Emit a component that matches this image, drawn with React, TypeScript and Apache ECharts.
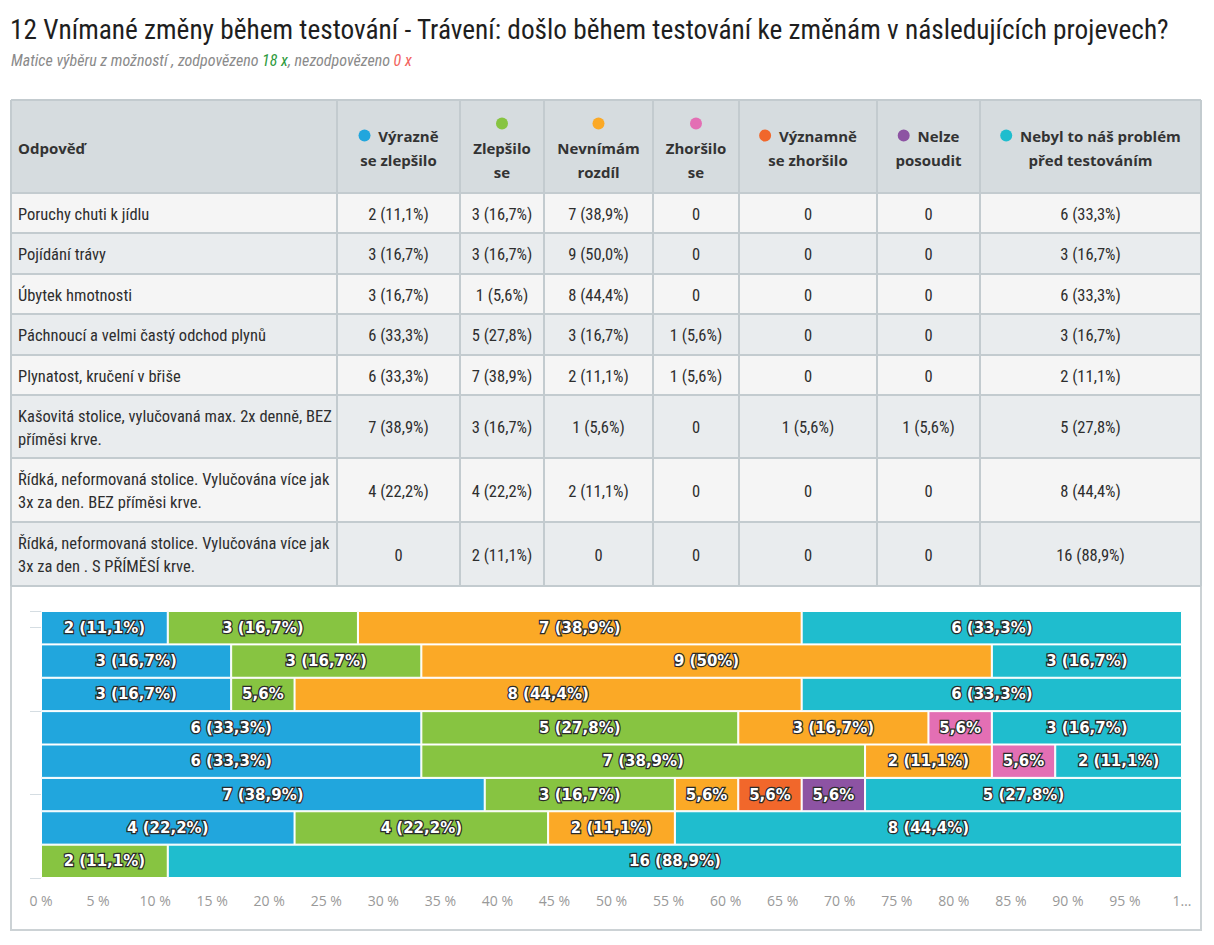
import React, { useEffect, useRef } from "react";
import * as echarts from "echarts";

// ---- data ----
const TITLE = "12 Vnímané změny během testování - Trávení: došlo během testování ke změnám v následujících projevech?";
const SUBTITLE_TYPE = "Matice výběru z možností";
const answered = 18;
const unanswered = 0;

const rowLabels = [
  "Poruchy chuti k jídlu",
  "Pojídání trávy",
  "Úbytek hmotnosti",
  "Páchnoucí a velmi častý odchod plynů",
  "Plynatost, kručení v břiše",
  "Kašovitá stolice, vylučovaná max. 2x denně, BEZ\npříměsi krve.",
  "Řídká, neformovaná stolice. Vylučována více jak\n3x za den. BEZ příměsi krve.",
  "Řídká, neformovaná stolice. Vylučována více jak\n3x za den . S PŘÍMĚSÍ krve.",
];

const seriesNames = [
  "Výrazně se zlepšilo",
  "Zlepšilo se",
  "Nevnímám rozdíl",
  "Zhoršilo se",
  "Významně se zhoršilo",
  "Nelze posoudit",
  "Nebyl to náš problém před testováním",
];
const headerLines = [
  ["Výrazně", "se zlepšilo"],
  ["Zlepšilo", "se"],
  ["Nevnímám", "rozdíl"],
  ["Zhoršilo", "se"],
  ["Významně", "se zhoršilo"],
  ["Nelze", "posoudit"],
  ["Nebyl to náš problém", "před testováním"],
];
const dotAbove = [false, true, true, true, false, false, false];
const colors = ["#21a6dd", "#87c441", "#fba926", "#e36fb4", "#f1672b", "#8d53a3", "#1fbdce"];

const vyrazneZlepsilo = [2, 3, 3, 6, 6, 7, 4, 0];
const zlepsilo = [3, 3, 1, 5, 7, 3, 4, 2];
const nevnimam = [7, 9, 8, 3, 2, 1, 2, 0];
const zhorsilo = [0, 0, 0, 1, 1, 0, 0, 0];
const vyznamneZhorsilo = [0, 0, 0, 0, 0, 1, 0, 0];
const nelzePosoudit = [0, 0, 0, 0, 0, 1, 0, 0];
const nebylProblem = [6, 3, 6, 3, 2, 5, 8, 16];
const counts = [vyrazneZlepsilo, zlepsilo, nevnimam, zhorsilo, vyznamneZhorsilo, nelzePosoudit, nebylProblem];

// ---- layout ----
const colX = [11, 337, 460, 544, 653, 739, 877, 980, 1201];
const rowY = [100, 193, 233, 274, 314, 355, 395, 458, 522, 586];
const BODY_FONT = "'Roboto Condensed', sans-serif";
const HEAD_FONT = "'Open Sans', sans-serif";

const pct = (n: number, keepZero: boolean) => {
  let s = ((n / answered) * 100).toFixed(1).replace(".", ",");
  if (!keepZero && s.endsWith(",0")) s = s.slice(0, -2);
  return s;
};

export default function App() {
  const ref = useRef<HTMLDivElement>(null);
  useEffect(() => {
    document.body.style.margin = "0";
    const chart = echarts.init(ref.current!, null, { renderer: "svg" });
    const g: any[] = [];

    g.push({
      type: "text", x: 10, y: 30,
      style: { text: TITLE, fontSize: 27.3, fontFamily: BODY_FONT, fill: "#1e1e1e", verticalAlign: "middle", align: "left" },
    });
    g.push({
      type: "text", x: 11, y: 60,
      style: {
        text: `{g|${SUBTITLE_TYPE} , zodpovězeno }{ok|${answered} x}{g|, nezodpovězeno }{bad|${unanswered} x}`,
        fontSize: 16, fontFamily: BODY_FONT, fontStyle: "italic", verticalAlign: "middle", align: "left",
        rich: {
          g: { fill: "#8a8a8a", fontSize: 16, fontFamily: BODY_FONT, fontStyle: "italic" },
          ok: { fill: "#2c9a3c", fontSize: 16, fontFamily: BODY_FONT, fontStyle: "italic" },
          bad: { fill: "#f2625c", fontSize: 16, fontFamily: BODY_FONT, fontStyle: "italic" },
        },
      },
    });

    // chart container
    g.push({
      type: "rect", shape: { x: 11, y: 586, width: 1190, height: 344 },
      style: { fill: "#fff", stroke: "#ccd2d5", lineWidth: 2 },
    });

    // table backgrounds
    g.push({
      type: "rect", shape: { x: colX[0], y: rowY[0], width: colX[8] - colX[0], height: rowY[1] - rowY[0] },
      style: { fill: "#d6dcdf" },
    });
    for (let r = 0; r < rowLabels.length; r++) {
      g.push({
        type: "rect", shape: { x: colX[0], y: rowY[r + 1], width: colX[8] - colX[0], height: rowY[r + 2] - rowY[r + 1] },
        style: { fill: r % 2 === 0 ? "#f5f5f5" : "#e9ecee" },
      });
    }
    // grid lines
    colX.forEach((x) =>
      g.push({ type: "line", shape: { x1: x, y1: rowY[0], x2: x, y2: rowY[rowY.length - 1] }, style: { stroke: "#c3cbcf", lineWidth: 2 } })
    );
    rowY.forEach((y) =>
      g.push({ type: "line", shape: { x1: colX[0], y1: y, x2: colX[8], y2: y }, style: { stroke: "#c3cbcf", lineWidth: 2 } })
    );

    // header
    const headY = (rowY[0] + rowY[1]) / 2 + 1;
    g.push({
      type: "text", x: 18, y: headY,
      style: { text: "Odpověď", fontSize: 15, fontWeight: "bold", fontFamily: HEAD_FONT, fill: "#333", align: "left", verticalAlign: "middle" },
    });
    seriesNames.forEach((_, i) => {
      const cx = (colX[i + 1] + colX[i + 2]) / 2;
      const [l1, l2] = headerLines[i];
      const text = dotAbove[i] ? `{d|}\n{t|${l1}}\n{t|${l2}}` : `{d|}{t|  ${l1}}\n{t|${l2}}`;
      g.push({
        type: "text", x: cx, y: headY,
        style: {
          text, align: "center", verticalAlign: "middle", fontSize: 15, fontWeight: "bold", fontFamily: HEAD_FONT, fill: "#333",
          rich: {
            d: { width: 12, height: 12, backgroundColor: colors[i], borderRadius: 6, align: "center", lineHeight: 24 },
            t: { fontSize: 15, fontWeight: "bold", fontFamily: HEAD_FONT, fill: "#333", align: "center", lineHeight: 24 },
          },
        },
      });
    });

    // body
    rowLabels.forEach((lab, r) => {
      const cy = (rowY[r + 1] + rowY[r + 2]) / 2 + 1;
      g.push({
        type: "text", x: 18, y: cy,
        style: { text: lab, fontSize: 16.5, fontFamily: BODY_FONT, fill: "#2e2e2e", align: "left", verticalAlign: "middle", lineHeight: 23 },
      });
      counts.forEach((arr, i) => {
        const n = arr[r];
        const cx = (colX[i + 1] + colX[i + 2]) / 2;
        g.push({
          type: "text", x: cx, y: cy,
          style: {
            text: n === 0 ? "0" : `${n} (${pct(n, true)}%)`,
            fontSize: 16.5, fontFamily: BODY_FONT, fill: "#2e2e2e", align: "center", verticalAlign: "middle",
          },
        });
      });
    });

    chart.setOption({
      animation: false,
      graphic: { elements: g },
      grid: { left: 41, right: 32, top: 611, bottom: 67 },
      xAxis: {
        type: "value", min: 0, max: 100, interval: 5,
        axisLabel: {
          formatter: (v: number) => (v === 100 ? "1…" : `${v} %`),
          color: "#999", fontSize: 14, fontFamily: HEAD_FONT, margin: 15,
        },
        splitLine: { show: false }, axisLine: { show: false }, axisTick: { show: false },
      },
      yAxis: [
        {
          type: "category", data: rowLabels, inverse: true,
          axisLabel: { show: false }, axisTick: { show: false }, axisLine: { show: false },
        },
        {
          type: "value", position: "left", min: 0, max: 8, interval: 2.5,
          axisLabel: { show: false }, axisLine: { show: false }, splitLine: { show: false },
          axisTick: { show: true, length: 11, lineStyle: { color: "#d5dde2", width: 1 } },
        },
      ],
      series: seriesNames.map((name, i) => ({
        type: "bar", name, stack: "total", barWidth: "100%", yAxisIndex: 0,
        data: counts[i].map((n) => (n === 0 ? "-" : (n / answered) * 100)),
        itemStyle: { color: colors[i], borderColor: "#fff", borderWidth: 1 },
        label: {
          show: true, position: "inside",
          formatter: (p: any) => {
            const n = counts[i][p.dataIndex];
            return n >= 2 ? `${n} (${pct(n, false)}%)` : `${pct(n, false)}%`;
          },
          color: "#fff", fontSize: 15, fontWeight: "bold", fontFamily: "'DejaVu Sans', sans-serif",
          textBorderColor: "#2a2a2a", textBorderWidth: 2.5,
        },
      })),
    });
    return () => chart.dispose();
  }, []);
  return <div ref={ref} style={{ width: 1214, height: 945 }} />;
}
